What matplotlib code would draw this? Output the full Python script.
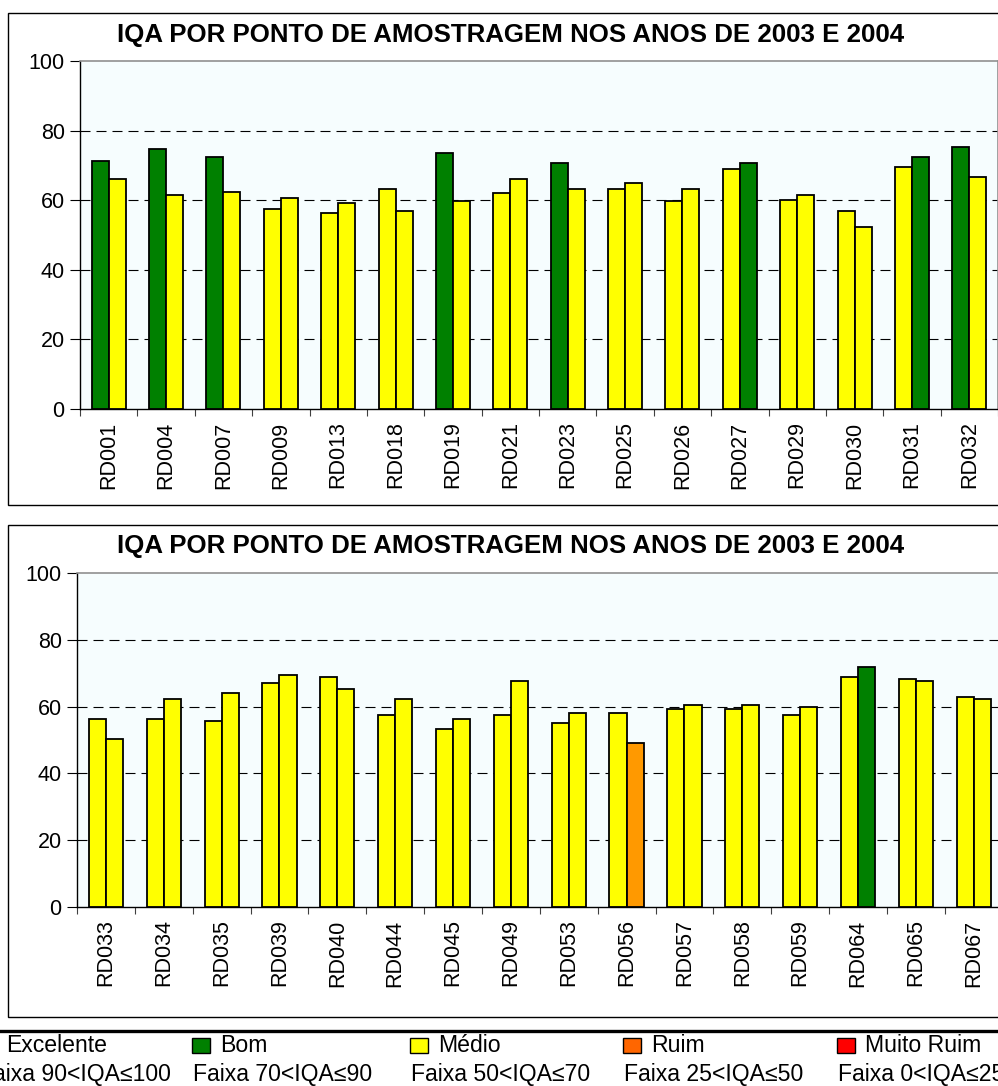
import matplotlib
matplotlib.use("Agg")
import matplotlib.pyplot as plt
from matplotlib.patches import Rectangle
from matplotlib.lines import Line2D
import numpy as np

plt.rcParams['font.family'] = ['Liberation Sans', 'DejaVu Sans']

title = "IQA POR PONTO DE AMOSTRAGEM NOS ANOS DE 2003 E 2004"

points_1 = ["RD001", "RD004", "RD007", "RD009", "RD013", "RD018", "RD019", "RD021",
            "RD023", "RD025", "RD026", "RD027", "RD029", "RD030", "RD031", "RD032"]
iqa2003_1 = [71.2, 74.6, 72.3, 57.4, 56.2, 63.1, 73.5, 62.0,
             70.6, 63.1, 59.7, 68.9, 60.2, 56.8, 69.4, 75.3]
iqa2004_1 = [66.0, 61.4, 62.5, 60.7, 59.1, 56.8, 59.7, 66.0,
             63.1, 64.8, 63.1, 70.6, 61.4, 52.2, 72.3, 66.6]

points_2 = ["RD033", "RD034", "RD035", "RD039", "RD040", "RD044", "RD045", "RD049",
            "RD053", "RD056", "RD057", "RD058", "RD059", "RD064", "RD065", "RD067"]
iqa2003_2 = [56.2, 56.2, 55.6, 67.0, 68.8, 57.4, 53.2, 57.4,
             55.0, 58.0, 59.2, 59.2, 57.4, 68.8, 68.2, 62.8]
iqa2004_2 = [50.2, 62.2, 64.0, 69.4, 65.2, 62.2, 56.2, 67.6,
             58.0, 49.1, 60.4, 60.4, 59.8, 71.8, 67.6, 62.2]

class_names = ["Excelente", "Bom", "Médio", "Ruim", "Muito Ruim"]
class_ranges = ["Faixa 90<IQA≤100", "Faixa 70<IQA≤90", "Faixa 50<IQA≤70",
                "Faixa 25<IQA≤50", "Faixa 0<IQA≤25"]
class_lower = [90, 70, 50, 25, 0]
bar_colors = ["#3366FF", "#008000", "#FFFF00", "#FF9900", "#FF0000"]
legend_colors = ["#3366FF", "#008000", "#FFFF00", "#FF6600", "#FF0000"]


def color_for(v):
    for lo, c in zip(class_lower, bar_colors):
        if v > lo:
            return c
    return bar_colors[-1]


W, H = 998, 1086
fig = plt.figure(figsize=(W / 100, H / 100), dpi=100)
fig.patch.set_facecolor("white")


def fx(px):
    return px / W


def fy(py):
    return 1 - py / H


# panel frames
for top, bot in [(13, 505), (525, 1017)]:
    fig.patches.append(Rectangle((fx(8), fy(bot)), 1.2, fy(top) - fy(bot),
                                 transform=fig.transFigure, facecolor="white",
                                 edgecolor="black", linewidth=1.0, zorder=-5))


def draw_panel(left, right, top, bottom, title_y, names, v03, v04):
    ax = fig.add_axes([fx(left), fy(bottom), fx(right) - fx(left), fy(top) - fy(bottom)])
    ax.set_zorder(2)
    ax.set_facecolor("#F6FDFE")
    x = np.arange(len(names))
    bw = 0.296
    ax.bar(x - bw / 2, v03, width=bw, color=[color_for(v) for v in v03],
           edgecolor="black", linewidth=1.3, zorder=3)
    ax.bar(x + bw / 2, v04, width=bw, color=[color_for(v) for v in v04],
           edgecolor="black", linewidth=1.3, zorder=3)
    ax.set_xlim(-0.5, len(names) - 0.5)
    ax.set_ylim(0, 100)
    ax.set_yticks([0, 20, 40, 60, 80, 100])
    ax.tick_params(axis="y", length=7, width=0.8, pad=4, labelsize=15.5, direction="out")
    for yv in [20, 40, 60, 80]:
        ln = ax.axhline(yv, color="black", linewidth=0.8, zorder=1)
        ln.set_dashes((9, 5.4))
    ax.set_xticks(x)
    ax.set_xticklabels(names, rotation=90, fontsize=15.5, va="top", ha="center")
    ax.tick_params(axis="x", which="major", length=0, pad=9)
    ax.set_xticks(np.arange(len(names) + 1) - 0.5, minor=True)
    ax.tick_params(axis="x", which="minor", length=5, width=0.8, direction="out",
                   color="#404040")
    for s in ["top", "right"]:
        ax.spines[s].set_color("#909090")
        ax.spines[s].set_linewidth(1.2)
    for s in ["left", "bottom"]:
        ax.spines[s].set_color("black")
        ax.spines[s].set_linewidth(1.0)
    fig.text(fx(510.5), fy(title_y), title, ha="center", va="center",
             fontsize=18.6, fontweight="bold")
    return ax


draw_panel(80, 998, 61, 409, 35, points_1, iqa2003_1, iqa2004_1)
draw_panel(77, 1002.6, 573, 907, 546, points_2, iqa2003_2, iqa2004_2)

# thick separator line
fig.lines.append(Line2D([0, 1], [fy(1031), fy(1031)], transform=fig.transFigure,
                        color="black", linewidth=2.4))

# legend
legend_x = [-22, 191.7, 410, 623, 837]
for xs, name, rng, col in zip(legend_x, class_names, class_ranges, legend_colors):
    fig.patches.append(Rectangle((fx(xs), fy(1053)), fx(18), fy(1038) - fy(1053),
                                 transform=fig.transFigure, facecolor=col,
                                 edgecolor="black", linewidth=1.0))
    fig.text(fx(xs + 28), fy(1046), name, ha="left", va="center", fontsize=16.6)
    fig.text(fx(xs + 1), fy(1075), rng, ha="left", va="center", fontsize=16.6)

fig.savefig("out.png", dpi=100)
